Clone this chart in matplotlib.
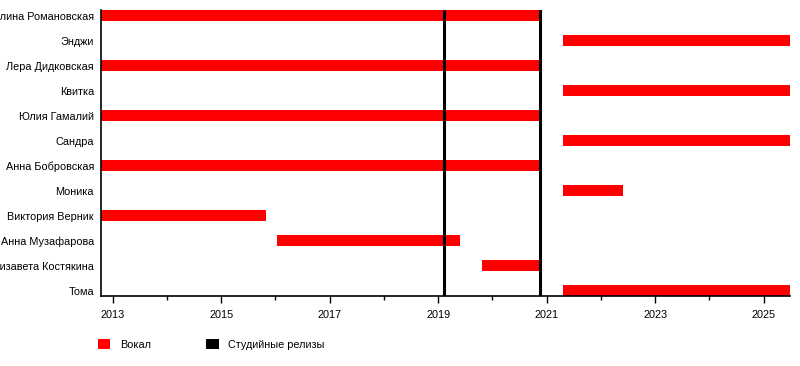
import matplotlib
matplotlib.use("Agg")
import matplotlib.pyplot as plt
from matplotlib.patches import Patch

plt.rcParams['font.family'] = ['Liberation Sans', 'DejaVu Sans']

# members, top to bottom; dates in decimal years
members = ["Ангелина Романовская", "Энджи", "Лера Дидковская", "Квитка",
           "Юлия Гамалий", "Сандра", "Анна Бобровская", "Моника",
           "Виктория Верник", "Анна Музафарова", "Елизавета Костякина", "Тома"]
start = [2012.785, 2021.31, 2012.785, 2021.31, 2012.785, 2021.31, 2012.785, 2021.31,
         2012.785, 2016.03, 2019.80, 2021.31]
end = [2020.87, 2025.49, 2020.87, 2025.49, 2020.87, 2025.49, 2020.87, 2022.41,
       2015.83, 2019.40, 2020.87, 2025.49]
releases = [2019.11, 2020.87]

period = (2012.785, 2025.49)

fig = plt.figure(figsize=(8, 3.66), dpi=100)
ax = fig.add_axes([0.12625, 0.19, 0.8615, 0.7827])

rows = list(range(len(members)))
widths = [e - s for s, e in zip(start, end)]
ax.barh(rows, widths, left=start, height=0.44, color='#ff0000', zorder=2)

for r in releases:
    ax.axvline(r, color='black', linewidth=2.2, zorder=3)

ax.set_xlim(*period)
ax.set_ylim(len(members) - 1 + 0.22, -0.22)
ax.set_yticks(rows)
ax.set_yticklabels(members, fontsize=7.8)
ax.tick_params(axis='y', length=0, pad=5)

ax.set_xticks(range(2013, 2026, 2))
ax.set_xticks(range(2014, 2026, 2), minor=True)
ax.tick_params(axis='x', which='major', length=5, width=1, labelsize=7.8, pad=5)
ax.tick_params(axis='x', which='minor', length=3, width=1)

for side in ('top', 'right'):
    ax.spines[side].set_visible(False)
for side in ('left', 'bottom'):
    ax.spines[side].set_linewidth(1.2)

handles = [Patch(facecolor='#ff0000', edgecolor='none', label='Вокал'),
           Patch(facecolor='black', edgecolor='none', label='Студийные релизы')]
fig.legend(handles=handles, loc='center left', bbox_to_anchor=(0.1225, 0.06),
           ncol=2, frameon=False, fontsize=7.8, handlelength=1.15, handleheight=1.15,
           handletextpad=0.85, columnspacing=5.15, borderaxespad=0, borderpad=0)

fig.savefig("out.png", dpi=100)
